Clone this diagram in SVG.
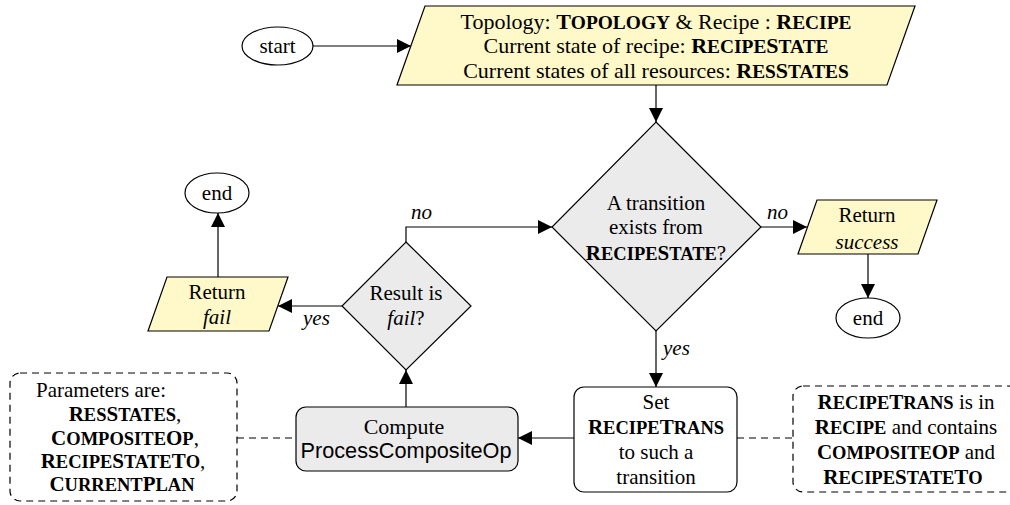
<svg xmlns="http://www.w3.org/2000/svg" width="1010" height="505" viewBox="0 0 1010 505">
<style>
text{font-family:'Liberation Serif','DejaVu Serif','Times New Roman',serif;font-size:21px;fill:#000;text-anchor:middle}
text.s{font-family:'Liberation Sans','DejaVu Sans',Arial,sans-serif;font-size:21.7px}
text.big{font-size:22px}
.b{font-weight:bold}
.m{font-weight:bold;font-size:18.5px}
text.big .m{font-size:19.4px}
.i{font-style:italic}
text.l{font-style:italic;text-anchor:start}
.io{fill:#fff8c8;stroke:#000;stroke-width:1.2}
.dec{fill:#ebebeb;stroke:#000;stroke-width:1.2}
.term{fill:#fff;stroke:#000;stroke-width:1.2}
.proc{fill:#fff;stroke:#000;stroke-width:1.2}
.note{fill:none;stroke:#000;stroke-width:1.2;stroke-dasharray:7 5}
.c{fill:none;stroke:#000;stroke-width:1.2}
.d{fill:none;stroke:#000;stroke-width:1.2;stroke-dasharray:7 5}
</style>
<defs>
<marker id="ah" markerUnits="userSpaceOnUse" markerWidth="14" markerHeight="14" viewBox="0 0 14 14" refX="14" refY="7" orient="auto">
<path d="M0,0 L14,7 L0,14 Z" fill="#000"/>
</marker>
</defs>

<g id="connectors">
<line class="c" x1="313" y1="46" x2="411" y2="46" marker-end="url(#ah)"/>
<line class="c" x1="656" y1="85" x2="656" y2="122" marker-end="url(#ah)"/>
<line class="c" x1="761" y1="227" x2="807" y2="227" marker-end="url(#ah)"/>
<line class="c" x1="868" y1="254" x2="868" y2="298" marker-end="url(#ah)"/>
<line class="c" x1="656" y1="331" x2="656" y2="387" marker-end="url(#ah)"/>
<line class="c" x1="574" y1="438" x2="518" y2="438" marker-end="url(#ah)"/>
<line class="c" x1="406" y1="407" x2="406" y2="370" marker-end="url(#ah)"/>
<line class="c" x1="342" y1="306" x2="278" y2="306" marker-end="url(#ah)"/>
<line class="c" x1="218" y1="277" x2="218" y2="213" marker-end="url(#ah)"/>
<polyline class="c" points="406,242 406,227 552,227" marker-end="url(#ah)"/>
<line class="d" x1="237" y1="438" x2="296" y2="438"/>
<line class="d" x1="737" y1="438" x2="793" y2="438"/>
<text class="l" x="411" y="219">no</text>
<text class="l" x="767" y="219">no</text>
<text class="l" x="663" y="355">yes</text>
<text class="l" x="303" y="325">yes</text>
</g>

<g id="start">
<ellipse class="term" cx="277.5" cy="46" rx="35.5" ry="19"/>
<text x="277.5" y="53">start</text>
</g>

<g id="input">
<polygon class="io" points="425,6 915,6 887,85 397,85"/>
<text class="big" x="656" y="29">Topology: <tspan class="b">T</tspan><tspan class="m">OPOLOGY</tspan> &amp; Recipe : <tspan class="b">R</tspan><tspan class="m">ECIPE</tspan></text>
<text class="big" x="656" y="53">Current state of recipe: <tspan class="b">R</tspan><tspan class="m">ECIPE</tspan><tspan class="b">S</tspan><tspan class="m">TATE</tspan></text>
<text class="big" x="656" y="78">Current states of all resources: <tspan class="b">R</tspan><tspan class="m">ES</tspan><tspan class="b">S</tspan><tspan class="m">TATES</tspan></text>
</g>

<g id="transition-exists">
<polygon class="dec" points="656,122 761,227 656,331 552,227"/>
<text x="656" y="210">A transition</text>
<text x="656" y="234">exists from</text>
<text x="656" y="260"><tspan class="b">R</tspan><tspan class="m">ECIPE</tspan><tspan class="b">S</tspan><tspan class="m">TATE</tspan>?</text>
</g>

<g id="return-success">
<polygon class="io" points="817,200 937,200 918,254 798,254"/>
<text x="867" y="222">Return</text>
<text class="i" x="867" y="249">success</text>
</g>

<g id="end-success">
<ellipse class="term" cx="868" cy="318" rx="32" ry="20"/>
<text x="868" y="325">end</text>
</g>

<g id="set-trans">
<rect class="proc" x="574" y="387" width="163" height="105" rx="10"/>
<text x="656" y="409">Set</text>
<text x="656" y="434"><tspan class="b">R</tspan><tspan class="m">ECIPE</tspan><tspan class="b">T</tspan><tspan class="m">RANS</tspan></text>
<text x="656" y="459">to such a</text>
<text x="656" y="484">transition</text>
</g>

<g id="note-trans">
<rect class="note" x="793" y="386" width="225" height="106" rx="10"/>
<text x="906" y="409"><tspan class="b">R</tspan><tspan class="m">ECIPE</tspan><tspan class="b">T</tspan><tspan class="m">RANS</tspan> is in</text>
<text x="906" y="434"><tspan class="b">R</tspan><tspan class="m">ECIPE</tspan> and contains</text>
<text x="906" y="459"><tspan class="b">C</tspan><tspan class="m">OMPOSITE</tspan><tspan class="b">O</tspan><tspan class="m">P</tspan> and</text>
<text x="903" y="484"><tspan class="b">R</tspan><tspan class="m">ECIPE</tspan><tspan class="b">S</tspan><tspan class="m">TATE</tspan><tspan class="b">T</tspan><tspan class="m">O</tspan></text>
</g>

<g id="compute">
<rect class="dec" x="296" y="407" width="222" height="64" rx="10"/>
<text x="404" y="434" style="font-size:22px">Compute</text>
<text class="s" x="406" y="458">ProcessCompositeOp</text>
</g>

<g id="note-params">
<rect class="note" x="10" y="373" width="227" height="128" rx="10"/>
<text x="36" y="397" style="text-anchor:start">Parameters are:</text>
<text x="125" y="421"><tspan class="b">R</tspan><tspan class="m">ES</tspan><tspan class="b">S</tspan><tspan class="m">TATES</tspan>,</text>
<text x="125" y="445"><tspan class="b">C</tspan><tspan class="m">OMPOSITE</tspan><tspan class="b">O</tspan><tspan class="m">P</tspan>,</text>
<text x="123" y="468"><tspan class="b">R</tspan><tspan class="m">ECIPE</tspan><tspan class="b">S</tspan><tspan class="m">TATE</tspan><tspan class="b">T</tspan><tspan class="m">O</tspan>,</text>
<text x="122" y="491"><tspan class="b">C</tspan><tspan class="m">URRENT</tspan><tspan class="b">P</tspan><tspan class="m">LAN</tspan></text>
</g>

<g id="result-fail">
<polygon class="dec" points="406,242 471,306 406,370 342,306"/>
<text x="406" y="300">Result is</text>
<text x="406" y="325"><tspan class="i">fail</tspan>?</text>
</g>

<g id="return-fail">
<polygon class="io" points="167,277 288,277 269,331 148,331"/>
<text x="217" y="299">Return</text>
<text class="i" x="217" y="324">fail</text>
</g>

<g id="end-fail">
<ellipse class="term" cx="217" cy="193" rx="32" ry="20"/>
<text x="217" y="200">end</text>
</g>
</svg>
